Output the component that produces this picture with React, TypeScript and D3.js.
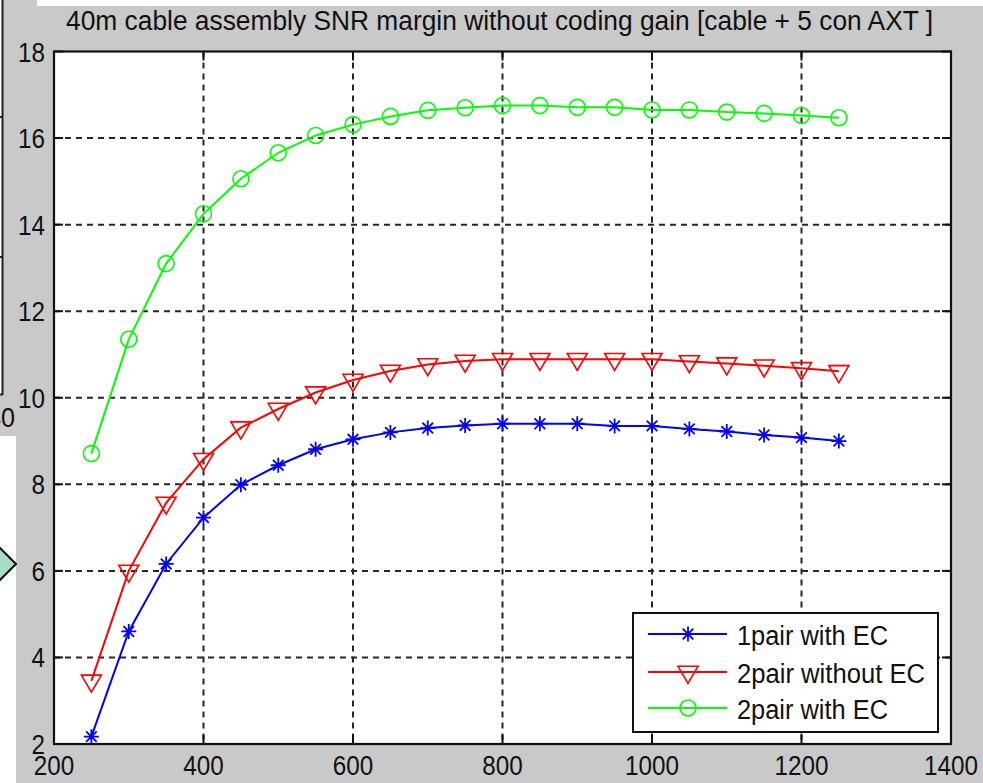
import React from "react";
import * as d3 from "d3";

const xValues = [250, 300, 350, 400, 450, 500, 550, 600, 650, 700, 750, 800, 850, 900, 950, 1000, 1050, 1100, 1150, 1200, 1250];
const onePairWithEC = [2.17, 4.6, 6.16, 7.23, 7.99, 8.44, 8.81, 9.04, 9.2, 9.3, 9.36, 9.4, 9.4, 9.4, 9.35, 9.35, 9.28, 9.22, 9.14, 9.08, 9.0];
const twoPairWithoutEC = [3.46, 6.0, 7.57, 8.58, 9.31, 9.74, 10.12, 10.41, 10.62, 10.77, 10.85, 10.89, 10.89, 10.89, 10.89, 10.89, 10.84, 10.79, 10.74, 10.68, 10.61];
const twoPairWithEC = [8.71, 11.35, 13.1, 14.25, 15.06, 15.66, 16.06, 16.31, 16.5, 16.64, 16.7, 16.75, 16.75, 16.71, 16.71, 16.65, 16.65, 16.6, 16.57, 16.52, 16.47];
const seriesNames = ["1pair with EC", "2pair without EC", "2pair with EC"];
const seriesColors = ["#0000ff", "#ff0000", "#00ff00"];
const seriesMarkers = ["star", "tri", "circle"];
const xTicks = [200, 400, 600, 800, 1000, 1200, 1400];
const yTicks = [2, 4, 6, 8, 10, 12, 14, 16, 18];
const titleText = "40m cable assembly SNR margin without coding gain [cable + 5 con AXT ]";

const W = 983;
const H = 783;
const L = 54, R = 951, T = 51.5, B = 744;
const FONT = "'Liberation Sans', Arial, sans-serif";
const BG = "#c9c9c9";

function Marker({ kind, cx, cy, color }: { kind: string; cx: number; cy: number; color: string }) {
  if (kind === "circle") {
    return <circle cx={cx} cy={cy} r={8} fill="none" stroke={color} strokeWidth={1.6} />;
  }
  if (kind === "tri") {
    const pts = [
      [cx - 10, cy - 5.7],
      [cx + 10, cy - 5.7],
      [cx, cy + 11.3],
    ];
    return <polygon points={pts.map((p) => p.join(",")).join(" ")} fill="none" stroke={color} strokeWidth={1.6} />;
  }
  const a = 7.5, b = 5.3;
  const d = `M${cx - a},${cy}L${cx + a},${cy}M${cx},${cy - a}L${cx},${cy + a}M${cx - b},${cy - b}L${cx + b},${cy + b}M${cx - b},${cy + b}L${cx + b},${cy - b}`;
  return <path d={d} stroke={color} strokeWidth={1.8} fill="none" />;
}

export default function App() {
  const x = d3.scaleLinear().domain([200, 1400]).range([L, R]);
  const y = d3.scaleLinear().domain([2, 18]).range([B, T]);
  const allSeries = [onePairWithEC, twoPairWithoutEC, twoPairWithEC];
  const line = d3
    .line<number>()
    .x((_, i) => x(xValues[i]))
    .y((v) => y(v));

  const legendRows = [634, 672, 708];

  return (
    <svg
      width={W}
      height={H}
      style={{ position: "absolute", left: 0, top: 0, display: "block" }}
      fontFamily={FONT}
    >
      <rect x={0} y={0} width={W} height={H} fill={BG} />
      {/* background window artifacts */}
      <rect x={37} y={0} width={W - 37} height={6} fill="#ffffff" />
      <rect x={0} y={0} width={2} height={394} fill="#ffffff" />
      <line x1={2.5} y1={0} x2={2.5} y2={395} stroke="#222" strokeWidth={2} />
      <line x1={0} y1={394.5} x2={3} y2={394.5} stroke="#222" strokeWidth={2} />
      <line x1={0} y1={117} x2={3} y2={117} stroke="#222" strokeWidth={2} />
      <line x1={0} y1={257} x2={3} y2={257} stroke="#222" strokeWidth={2} />
      <text x={15} y={427} fontSize={27} textAnchor="end" fill="#111" textLength={28} lengthAdjust="spacingAndGlyphs">40</text>
      <rect x={0} y={436} width={16} height={H - 436} fill="#ffffff" />
      <polygon points="16,564 -14,534 -44,564 -14,594" fill="#a9dcc3" stroke="#111" strokeWidth={2} />

      {/* title */}
      <text x={499.5} y={30} fontSize={27} textAnchor="middle" fill="#111" textLength={867} lengthAdjust="spacingAndGlyphs">
        {titleText}
      </text>

      {/* plot area */}
      <rect x={L} y={T} width={R - L} height={B - T} fill="#ffffff" />

      {/* grid */}
      {xTicks.slice(1, -1).map((t) => (
        <line key={"gx" + t} x1={x(t)} x2={x(t)} y1={T} y2={B} stroke="#262626" strokeWidth={2} strokeDasharray="6,5" />
      ))}
      {yTicks.slice(1, -1).map((t) => (
        <line key={"gy" + t} x1={L} x2={R} y1={y(t)} y2={y(t)} stroke="#262626" strokeWidth={2} strokeDasharray="6,5" />
      ))}

      {/* ticks */}
      {xTicks.map((t) => (
        <g key={"tx" + t}>
          <line x1={x(t)} x2={x(t)} y1={B} y2={B - 9} stroke="#111" strokeWidth={2} />
          <line x1={x(t)} x2={x(t)} y1={T} y2={T + 9} stroke="#111" strokeWidth={2} />
        </g>
      ))}
      {yTicks.map((t) => (
        <g key={"ty" + t}>
          <line x1={L} x2={L + 9} y1={y(t)} y2={y(t)} stroke="#111" strokeWidth={2} />
          <line x1={R} x2={R - 9} y1={y(t)} y2={y(t)} stroke="#111" strokeWidth={2} />
        </g>
      ))}

      {/* series */}
      {allSeries.map((vals, si) => (
        <g key={"s" + si}>
          <path d={line(vals) || ""} fill="none" stroke={seriesColors[si]} strokeWidth={2} />
          {vals.map((v, i) => (
            <Marker key={i} kind={seriesMarkers[si]} cx={x(xValues[i])} cy={y(v)} color={seriesColors[si]} />
          ))}
        </g>
      ))}

      {/* frame */}
      <rect x={L} y={T} width={R - L} height={B - T} fill="none" stroke="#111" strokeWidth={2.2} />

      {/* tick labels */}
      {xTicks.map((t) => {
        const s = String(t);
        return (
          <text key={"lx" + t} x={x(t)} y={775} fontSize={27} textAnchor="middle" fill="#111" textLength={s.length * 13.5} lengthAdjust="spacingAndGlyphs">
            {s}
          </text>
        );
      })}
      {yTicks.map((t) => {
        const s = String(t);
        return (
          <text key={"ly" + t} x={45} y={y(t) + 10} fontSize={27} textAnchor="end" fill="#111" textLength={s.length * 13.5} lengthAdjust="spacingAndGlyphs">
            {s}
          </text>
        );
      })}

      {/* legend */}
      <rect x={633} y={613} width={305} height={119} fill="#ffffff" stroke="#111" strokeWidth={2} />
      {seriesNames.map((name, i) => (
        <g key={"lg" + i}>
          <line x1={648} x2={727} y1={legendRows[i]} y2={legendRows[i]} stroke={seriesColors[i]} strokeWidth={2} />
          <Marker kind={seriesMarkers[i]} cx={688} cy={legendRows[i]} color={seriesColors[i]} />
          <text x={737} y={legendRows[i] + 11} fontSize={27} fill="#111" textLength={name === "2pair without EC" ? 188 : 151} lengthAdjust="spacingAndGlyphs">
            {name}
          </text>
        </g>
      ))}
    </svg>
  );
}
